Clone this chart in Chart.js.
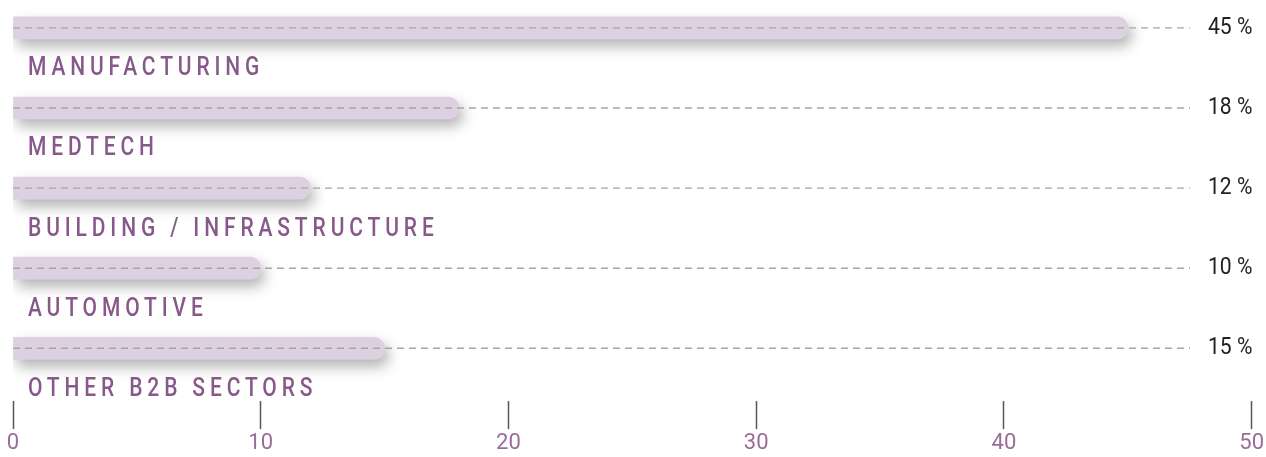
<!DOCTYPE html>
<html>
<head>
<meta charset="utf-8">
<script src="https://cdn.jsdelivr.net/npm/chart.js@4"></script>
<style>
  html, body { margin: 0; padding: 0; background: #fff; }
  #wrap { width: 1266px; height: 457px; position: relative; }
</style>
</head>
<body>
<div id="wrap"><canvas id="myChart"></canvas></div>
<script>
// chart data
const sectors = ['MANUFACTURING', 'MEDTECH', 'BUILDING / INFRASTRUCTURE', 'AUTOMOTIVE', 'OTHER B2B SECTORS'];
const shares = [45, 18, 12, 10, 15];
const xTicks = [0, 10, 20, 30, 40, 50];

const barColor = '#ddd0e0';
const purple = '#87588a';
const textFont = 'Roboto, "Open Sans", sans-serif';

// draw text squeezed horizontally (fake condensed face), starting at x
function narrowText(ctx, str, x, y, squeeze) {
    ctx.save();
    ctx.translate(x, y);
    ctx.scale(squeeze, 1);
    ctx.fillText(str, 0, 0);
    ctx.restore();
}

// shadow under bars, dashed guide lines, value + category labels
const decorPlugin = {
    id: 'decor',
    beforeDatasetsDraw(chart) {
        const ctx = chart.ctx;
        ctx.save();
        ctx.shadowColor = 'rgba(0,0,0,0.3)';
        ctx.shadowBlur = 14;
        ctx.shadowOffsetX = 4;
        ctx.shadowOffsetY = 7;
    },
    afterDatasetsDraw(chart) {
        const ctx = chart.ctx;
        ctx.restore();
        const x = chart.scales.x;
        const y = chart.scales.y;
        const lineEnd = 1190;
        sectors.forEach((name, i) => {
            const cy = y.getPixelForValue(i);
            // dashed line
            ctx.save();
            ctx.strokeStyle = '#a5a5a5';
            ctx.lineWidth = 1.4;
            ctx.setLineDash([7, 5]);
            ctx.beginPath();
            ctx.moveTo(x.getPixelForValue(0), cy);
            ctx.lineTo(lineEnd, cy);
            ctx.stroke();
            ctx.restore();

            // value label
            ctx.save();
            ctx.fillStyle = '#222';
            ctx.font = '24px ' + textFont;
            ctx.textBaseline = 'alphabetic';
            ctx.textAlign = 'left';
            narrowText(ctx, shares[i] + ' %', 1208, cy + 6, 0.88);
            ctx.restore();

            // category label
            ctx.save();
            ctx.fillStyle = purple;
            ctx.font = '500 25px ' + textFont;
            ctx.letterSpacing = '5.8px';
            ctx.textBaseline = 'alphabetic';
            ctx.textAlign = 'left';
            narrowText(ctx, name, 28, cy + 47.5, 0.84);
            ctx.restore();
        });
    }
};

const ctx = document.getElementById('myChart').getContext('2d');
window.myChart = new Chart(ctx, {
    type: 'bar',
    data: {
        datasets: [{
            data: shares.map((v, i) => ({ x: v, y: i })),
            backgroundColor: barColor,
            borderRadius: 11,
            borderSkipped: 'start',
            barThickness: 22
        }]
    },
    options: {
        indexAxis: 'y',
        responsive: true,
        maintainAspectRatio: false,
        animation: false,
        layout: { padding: { left: 13, right: 13, top: 0, bottom: 0 } },
        plugins: { legend: { display: false }, tooltip: { enabled: false } },
        scales: {
            y: {
                type: 'linear',
                display: false,
                offset: false,
                reverse: true,
                min: -0.348,
                max: 4.658
            },
            x: {
                type: 'linear',
                min: 0,
                max: 50,
                afterBuildTicks: axis => { axis.ticks = xTicks.map(v => ({ value: v })); },
                border: { display: false },
                grid: {
                    drawOnChartArea: false,
                    drawTicks: true,
                    tickLength: 28,
                    tickColor: '#555',
                    tickWidth: 1.5
                },
                ticks: {
                    color: '#9b6b9b',
                    padding: 2,
                    maxRotation: 0,
                    font: { family: textFont, size: 22, lineHeight: 1.09 }
                }
            }
        }
    },
    plugins: [decorPlugin]
});
</script>
</body>
</html>
